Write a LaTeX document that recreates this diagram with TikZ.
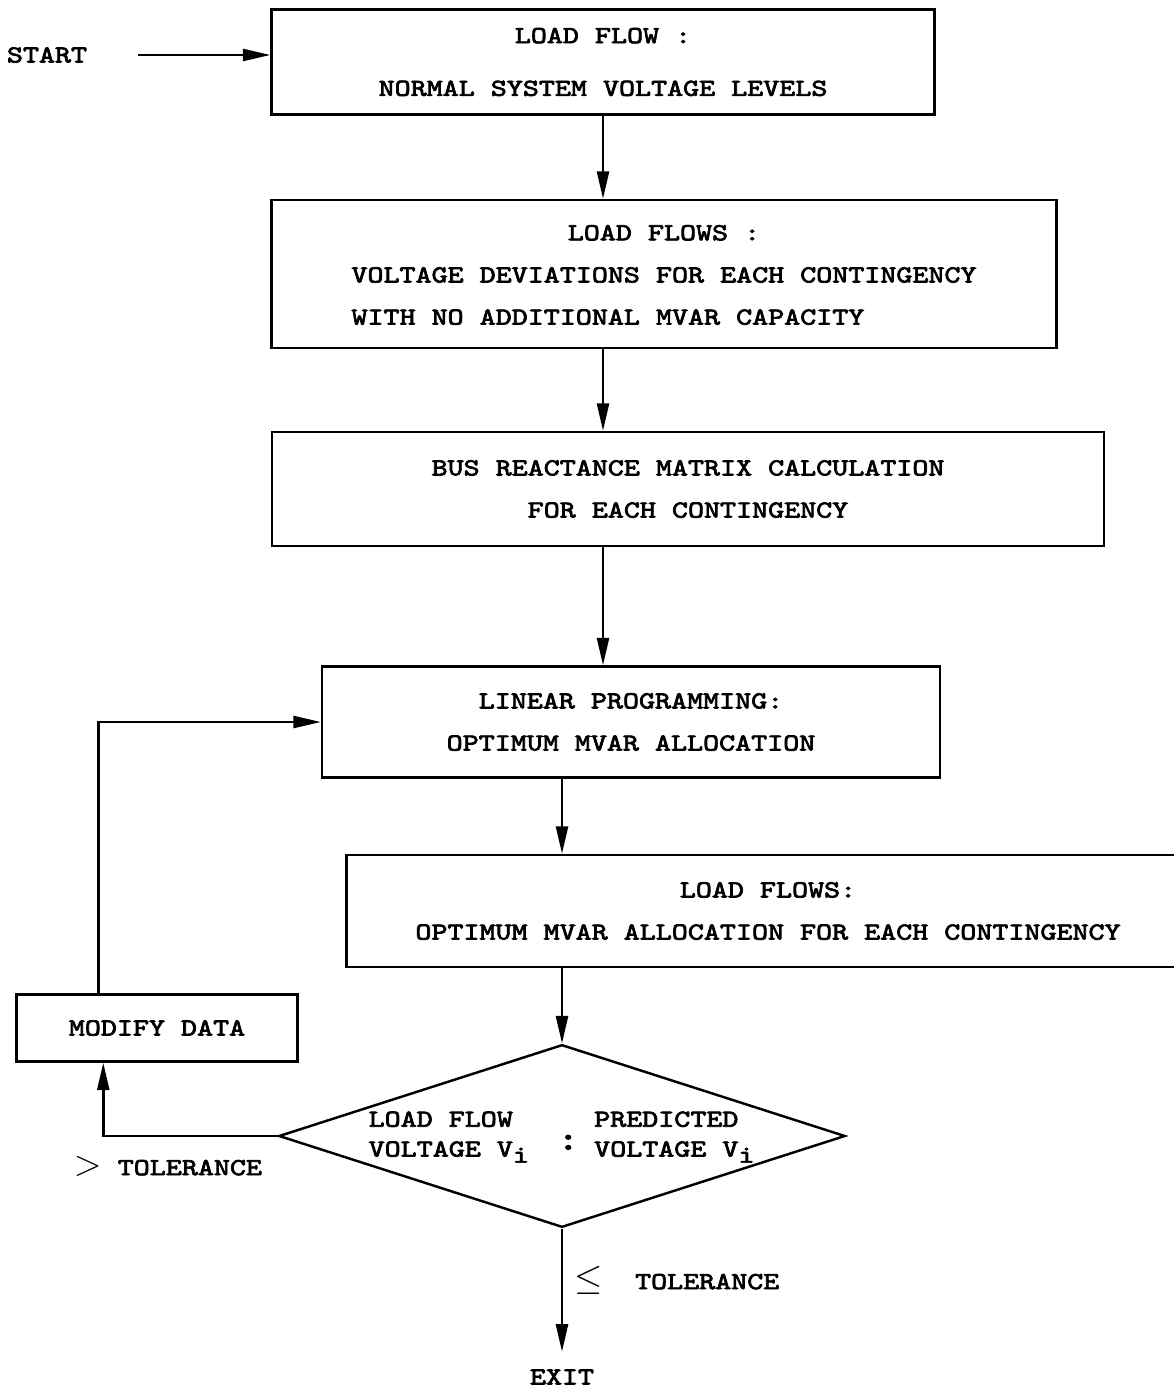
\documentclass[tikz,border=0pt]{standalone}
\usepackage{fontspec}
\setmonofont{lmmono10-regular.otf}[FakeStretch=1.25,FakeBold=3]
\usetikzlibrary{arrows.meta,shapes.geometric,positioning}

\begin{document}
\begin{tikzpicture}[x=0.02cm,y=-0.02cm,
  font=\ttfamily\fontsize{13.9}{24}\selectfont,
  box/.style={draw,line width=1.4pt,align=center,inner sep=0pt},
  arr/.style={line width=1.4pt,-{Triangle[length=0.55cm,width=0.24cm]}}]
  \useasboundingbox (0,0) rectangle (1173,1389);
  % process boxes
  \node[box,minimum width=13.26cm,minimum height=2.1cm] (flow) at (603,62)
    {LOAD FLOW :\\[6pt] NORMAL SYSTEM VOLTAGE LEVELS};
  \node[box,minimum width=15.7cm,minimum height=2.96cm] (dev) at (664,274)
    {\begin{tabular}{@{}l@{}}\multicolumn{1}{@{}c@{}}{LOAD FLOWS :}\\
     VOLTAGE DEVIATIONS FOR EACH CONTINGENCY\\
     WITH NO ADDITIONAL MVAR CAPACITY\end{tabular}};
  \node[box,minimum width=16.64cm,minimum height=2.28cm] (bus) at (688,489)
    {BUS REACTANCE MATRIX CALCULATION\\ FOR EACH CONTINGENCY};
  \node[box,minimum width=12.36cm,minimum height=2.22cm] (lp) at (631,722)
    {LINEAR PROGRAMMING:\\ OPTIMUM MVAR ALLOCATION};
  \node[box,minimum width=16.86cm,minimum height=2.24cm] (opt) at (768,911)
    {LOAD FLOWS:\\ OPTIMUM MVAR ALLOCATION FOR EACH CONTINGENCY};
  \node[box,minimum width=5.62cm,minimum height=1.34cm] (mod) at (157,1028)
    {MODIFY DATA};
  % test
  \node[box,diamond,aspect=3.1,minimum width=11.1cm,minimum height=3.56cm,
    font=\ttfamily\fontsize{13.9}{16}\selectfont] (test) at (562,1136)
    {\begin{tabular}{@{}l@{\hspace{0.55cm}}c@{\hspace{0.3cm}}l@{}}
     LOAD FLOW & & PREDICTED\\
     VOLTAGE V$_{\texttt{i}}$ & \raisebox{4pt}{\fontsize{19}{19}\selectfont:}
     & VOLTAGE V$_{\texttt{i}}$
     \end{tabular}};
  % terminals and labels
  \node (start) at (47,55) {START};
  \node[inner ysep=0.35cm] (exit) at (562,1377) {EXIT};
  \node (gt) at (168,1166) {{\huge$>$}\ TOLERANCE};
  \node (le) at (677,1280) {{\huge$\leq$}\ \ TOLERANCE};
  % flow lines
  \draw[arr,shorten <=0.9cm] (start) -- (start -| flow.west);
  \draw[arr] (flow.south) -- (dev.north -| flow.south);
  \draw[arr] (dev.south -| flow.south) -- (bus.north -| flow.south);
  \draw[arr] (bus.south -| flow.south) -- (lp.north -| flow.south);
  \draw[arr] (lp.south -| test.north) -- (opt.north -| test.north);
  \draw[arr] (opt.south -| test.north) -- (test.north);
  \draw[arr] (test.south) -- (exit.north);
  \draw[arr] (test.west) -| ([xshift=1.76cm]mod.south west);
  \draw[arr] ([xshift=1.66cm]mod.north west) |- (lp.west);
\end{tikzpicture}
\end{document}
